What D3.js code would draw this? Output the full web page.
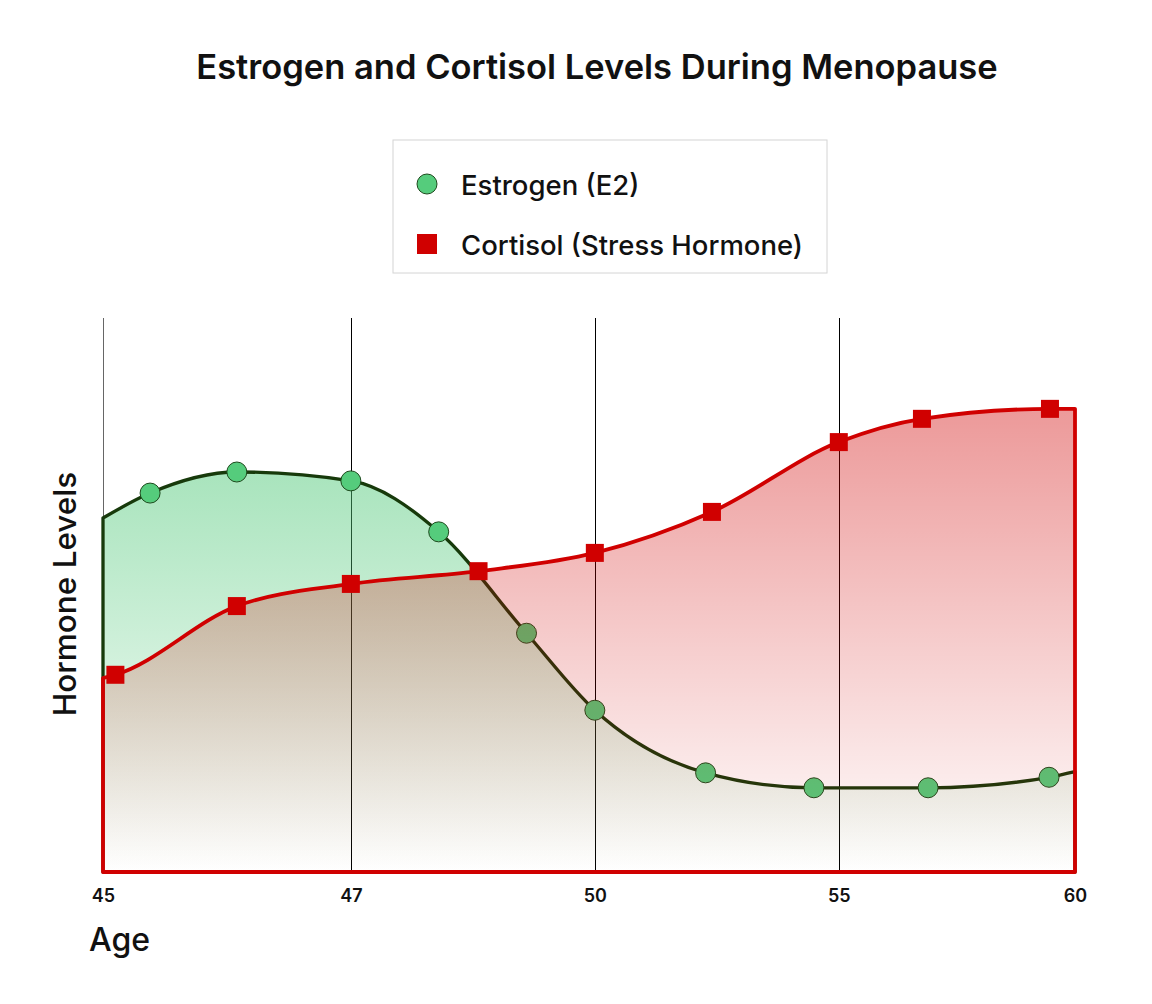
<!DOCTYPE html>
<html>
<head>
<meta charset="utf-8">
<script src="https://cdn.jsdelivr.net/npm/d3@7"></script>
<style>
  body { margin: 0; background: #fff; }
  svg { font-family: Inter, 'Noto Sans', sans-serif; }
</style>
</head>
<body>
<div id="chart"></div>
<script>
// tick labels on the age axis (drawn evenly spaced, like the original)
const ageTicks = [45, 47, 50, 55, 60];
// vertical gridlines (none at 60 in the original)
const gridAges = [45, 47, 50, 55];

// estrogen curve (first/last are the curve ends, no marker)
const estrogenAges   = [45, 45.38, 46.08, 47, 48.08, 49.16, 50, 52.27, 54.49, 56.89, 59.45, 60];
const estrogenLevels = [63.9, 68.4, 72.2, 70.6, 61.4, 43.1, 29.2, 17.9, 15.2, 15.2, 17.1, 18.1];

// cortisol curve
const cortisolAges   = [45, 45.1, 46.08, 47, 48.57, 50, 52.4, 55, 56.76, 59.47, 60];
const cortisolLevels = [35.0, 35.6, 48.0, 52.0, 54.3, 57.6, 65.0, 77.6, 81.8, 83.6, 83.6];

const estrogen = estrogenAges.map((a, i) => ({ age: a, value: estrogenLevels[i] }));
const cortisol = cortisolAges.map((a, i) => ({ age: a, value: cortisolLevels[i] }));

const W = 1152, H = 1004;
const plot = { left: 103, right: 1075, top: 318, bottom: 872 };

const svg = d3.select('#chart')
  .append('svg')
  .attr('width', W)
  .attr('height', H);

// piecewise scale so the uneven ages sit on evenly spaced ticks
const tickFrac = [0, 0.255, 0.506, 0.757, 1];
const x = d3.scaleLinear()
  .domain(ageTicks)
  .range(tickFrac.map(f => plot.left + f * (plot.right - plot.left)));

const y = d3.scaleLinear()
  .domain([0, 100])
  .range([plot.bottom, plot.top]);

// gradients
const defs = svg.append('defs');
const greenGrad = defs.append('linearGradient')
  .attr('id', 'greenGrad')
  .attr('x1', 0).attr('y1', 0).attr('x2', 0).attr('y2', 1);
greenGrad.append('stop').attr('offset', '0%').attr('stop-color', '#52c97a').attr('stop-opacity', 0.5);
greenGrad.append('stop').attr('offset', '100%').attr('stop-color', '#52c97a').attr('stop-opacity', 0.0);

const redGrad = defs.append('linearGradient')
  .attr('id', 'redGrad')
  .attr('x1', 0).attr('y1', 0).attr('x2', 0).attr('y2', 1);
redGrad.append('stop').attr('offset', '0%').attr('stop-color', '#d00000').attr('stop-opacity', 0.4);
redGrad.append('stop').attr('offset', '100%').attr('stop-color', '#d00000').attr('stop-opacity', 0.0);

// vertical gridlines
svg.append('g')
  .selectAll('line')
  .data(gridAges)
  .join('line')
  .attr('x1', d => Math.round(x(d)) + 0.5).attr('x2', d => Math.round(x(d)) + 0.5)
  .attr('y1', y(100)).attr('y2', y(0))
  .attr('stroke', d => d === 45 ? '#666' : '#000')
  .attr('stroke-width', 1);

const area = d3.area()
  .x(d => x(d.age))
  .y0(y(0))
  .y1(d => y(d.value))
  .curve(d3.curveMonotoneX);

// estrogen area + markers
svg.append('path')
  .datum(estrogen)
  .attr('d', area)
  .attr('fill', 'url(#greenGrad)')
  .attr('stroke', '#173a0b')
  .attr('stroke-width', 3.3)
  .attr('stroke-linejoin', 'round');

svg.append('g')
  .selectAll('circle')
  .data(estrogen.filter(d => d.age > 45 && d.age < 60))
  .join('circle')
  .attr('cx', d => x(d.age))
  .attr('cy', d => y(d.value))
  .attr('r', 10)
  .attr('fill', '#55cc7c')
  .attr('stroke', '#1d4a1d')
  .attr('stroke-width', 1);

// cortisol area on top (tints whatever is under it)
svg.append('path')
  .datum(cortisol)
  .attr('d', area)
  .attr('fill', 'url(#redGrad)')
  .attr('stroke', '#d00000')
  .attr('stroke-width', 3.8)
  .attr('stroke-linejoin', 'round');

svg.append('g')
  .selectAll('rect')
  .data(cortisol.filter(d => d.age > 45 && d.age < 60))
  .join('rect')
  .attr('x', d => x(d.age) - 9)
  .attr('y', d => y(d.value) - 9)
  .attr('width', 18)
  .attr('height', 18)
  .attr('fill', '#d00000');

// x axis labels only
const xAxis = svg.append('g')
  .attr('transform', `translate(0,${plot.bottom})`)
  .call(d3.axisBottom(x).tickValues(ageTicks).tickFormat(d3.format('d')).tickSize(0).tickPadding(17));
xAxis.select('.domain').remove();
xAxis.selectAll('text')
  .attr('fill', '#111')
  .style('font-family', 'Inter, sans-serif')
  .style('font-size', '18px')
  .style('font-weight', 600);

svg.append('text')
  .attr('x', 89)
  .attr('y', 951)
  .style('font-size', '32px')
  .style('font-weight', 500)
  .attr('fill', '#111')
  .text('Age');

svg.append('text')
  .attr('transform', `translate(76,594) rotate(-90)`)
  .attr('text-anchor', 'middle')
  .style('font-size', '31.5px')
  .style('font-weight', 500)
  .attr('fill', '#111')
  .text('Hormone Levels');

// title
svg.append('text')
  .attr('x', 597)
  .attr('y', 79)
  .attr('text-anchor', 'middle')
  .style('font-size', '34.5px')
  .style('font-weight', 600)
  .attr('fill', '#111')
  .text('Estrogen and Cortisol Levels During Menopause');

// legend
const legend = svg.append('g').attr('transform', 'translate(393,140)');
legend.append('rect')
  .attr('width', 434)
  .attr('height', 133)
  .attr('fill', '#fff')
  .attr('stroke', '#d4d4d4')
  .attr('stroke-width', 1);

legend.append('circle')
  .attr('cx', 34).attr('cy', 44).attr('r', 10)
  .attr('fill', '#55cc7c').attr('stroke', '#1d4a1d').attr('stroke-width', 1);
legend.append('text')
  .attr('x', 68).attr('y', 45).attr('dy', '0.35em')
  .style('font-size', '27.5px').style('font-weight', 500)
  .attr('fill', '#111')
  .text('Estrogen (E2)');

legend.append('rect')
  .attr('x', 24).attr('y', 94).attr('width', 20).attr('height', 20)
  .attr('fill', '#d00000');
legend.append('text')
  .attr('x', 68).attr('y', 105).attr('dy', '0.35em')
  .style('font-size', '27.5px').style('font-weight', 500)
  .attr('fill', '#111')
  .text('Cortisol (Stress Hormone)');
</script>
</body>
</html>
